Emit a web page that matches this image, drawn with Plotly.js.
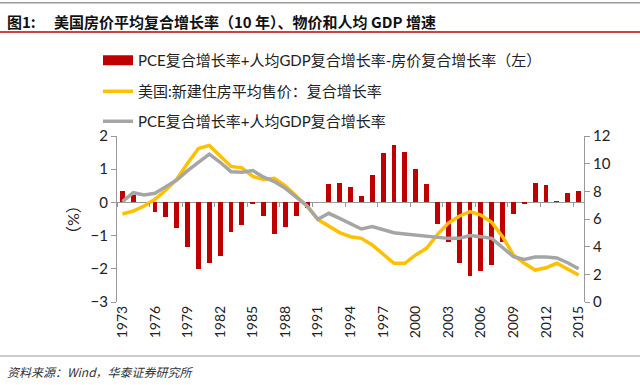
<!DOCTYPE html>
<html>
<head>
<meta charset="utf-8">
<script src="https://cdn.plot.ly/plotly-3.0.1.min.js"></script>
<style>html,body{margin:0;padding:0;background:#fff;}#chart{width:640px;height:385px;}</style>
</head>
<body>
<div id="chart"></div>
<script>
const years = [1973,1974,1975,1976,1977,1978,1979,1980,1981,1982,1983,1984,1985,1986,1987,1988,1989,1990,1991,1992,1993,1994,1995,1996,1997,1998,1999,2000,2001,2002,2003,2004,2005,2006,2007,2008,2009,2010,2011,2012,2013,2014,2015];
const gapBars = [0.35,0.22,0.02,-0.30,-0.45,-0.77,-1.35,-2.02,-1.82,-1.60,-0.88,-0.69,-0.06,-0.42,-0.96,-0.73,-0.42,-0.17,0.01,0.56,0.59,0.47,0.20,0.82,1.49,1.73,1.53,1.01,0.56,-0.66,-1.20,-1.82,-2.21,-2.06,-1.90,-1.20,-0.34,-0.05,0.59,0.51,0.05,0.28,0.35];
const housePrice = [6.36,6.58,6.94,7.42,8.10,8.87,10.03,11.10,11.32,10.57,9.80,9.70,9.08,8.85,8.94,8.40,7.68,6.93,5.96,5.50,5.02,4.72,4.60,4.12,3.45,2.80,2.80,3.40,3.88,4.87,5.70,6.20,6.53,6.29,5.76,4.72,3.40,2.80,2.31,2.47,2.80,2.38,1.95];
const pceGdp = [7.25,7.90,7.74,7.86,8.34,8.82,9.50,10.07,10.69,10.10,9.42,9.38,9.50,9.02,8.70,8.22,7.61,6.94,5.98,6.41,6.05,5.64,5.28,5.45,5.26,5.01,4.92,4.83,4.77,4.64,4.60,4.60,4.80,4.72,4.60,3.94,3.28,3.07,3.25,3.25,3.18,2.84,2.40];
const tickYears = [1973,1976,1979,1982,1985,1988,1991,1994,1997,2000,2003,2006,2009,2012,2015];
const names = ["PCE复合增长率+人均GDP复合增长率-房价复合增长率（左）","美国:新建住房平均售价：复合增长率","PCE复合增长率+人均GDP复合增长率"];

const RED = "#C00000", YEL = "#FFC000", GRY = "#A5A5A5";
const FONT = "Lato, 'Noto Sans CJK SC', sans-serif";

const traces = [
  {type:"bar", x:years, y:gapBars, yaxis:"y", marker:{color:RED}, width:0.45, showlegend:false, hoverinfo:"x+y"},
  {type:"scatter", mode:"lines", x:[null], y:[null], name:names[0], line:{color:RED, width:10}, legend:"legend", showlegend:true},
  {type:"scatter", mode:"lines", x:years, y:housePrice, yaxis:"y2", name:names[1], line:{color:YEL, width:3.5}, legend:"legend2"},
  {type:"scatter", mode:"lines", x:years, y:pceGdp, yaxis:"y2", name:names[2], line:{color:GRY, width:3.5}, legend:"legend3"},
  {type:"scatter", mode:"lines", x:[], y:[], xaxis:"x2", yaxis:"y", showlegend:false, hoverinfo:"skip"}
];

const lx = (98-117)/467;
function legendAt(py){
  return {x:lx, y:(302-py)/166, xanchor:"left", yanchor:"middle", bgcolor:"rgba(0,0,0,0)", borderwidth:0,
          font:{family:FONT, size:15, color:"#222"}};
}

const layout = {
  width:640, height:385,
  margin:{l:117, r:56, t:136, b:83},
  paper_bgcolor:"#fff", plot_bgcolor:"#fff",
  bargap:0,
  xaxis:{type:"linear", range:[1972.5,2015.5], tickmode:"array", tickvals:tickYears, ticktext:tickYears.map(String),
         tickangle:-90, tickfont:{family:FONT, size:14, color:"#222"}, showgrid:false, zeroline:false, showline:false, ticks:""},
  xaxis2:{overlaying:"x", anchor:"free", position:0.6, range:[1972.5,2015.5], showgrid:false, zeroline:false, showline:false,
          showticklabels:false, ticks:"outside", ticklen:4, tickcolor:"#999", tickwidth:1, tick0:1975.5, dtick:3, tickmode:"linear"},
  yaxis:{range:[-3,2], dtick:1, showgrid:false, zeroline:true, zerolinecolor:"#999", zerolinewidth:1.5,
         showline:true, linecolor:"#999", linewidth:1, ticks:"outside", ticklen:5, tickcolor:"#999",
         tickfont:{family:FONT, size:15, color:"#222"}},
  yaxis2:{overlaying:"y", side:"right", range:[0,12], dtick:2, showgrid:false, zeroline:false,
          showline:true, linecolor:"#999", linewidth:1, ticks:"outside", ticklen:5, tickcolor:"#999",
          tickfont:{family:FONT, size:15, color:"#222"}},
  legend:legendAt(60.5),
  legend2:legendAt(91.5),
  legend3:legendAt(121.5),
  shapes:[
    {type:"line", xref:"paper", yref:"paper", x0:-0.26, x1:1.13, y0:(302-2.7)/166, y1:(302-2.7)/166, line:{color:"#999", width:1.5}},
    {type:"line", xref:"paper", yref:"paper", x0:-0.26, x1:1.13, y0:(302-32)/166, y1:(302-32)/166, line:{color:RED, width:1.5}},
    {type:"line", xref:"paper", yref:"paper", x0:-0.26, x1:1.13, y0:(302-356)/166, y1:(302-356)/166, line:{color:"#999", width:1}}
  ],
  annotations:[
    {xref:"paper", yref:"paper", x:(5-117)/467, y:(302-21.7)/166, xanchor:"left", yanchor:"middle", showarrow:false,
     text:"<b>图1:</b>", font:{family:"'Noto Sans CJK SC', sans-serif", size:15, color:"#111"}},
    {xref:"paper", yref:"paper", x:(52-117)/467, y:(302-21.7)/166, xanchor:"left", yanchor:"middle", showarrow:false,
     text:"<b>美国房价平均复合增长率（10 年）、物价和人均 GDP 增速</b>", font:{family:"'Noto Sans CJK SC', sans-serif", size:15, color:"#111"}},
    {xref:"paper", yref:"paper", x:(72-117)/467, y:(302-220)/166, xanchor:"center", yanchor:"middle", showarrow:false,
     text:"（%）", textangle:-90, font:{family:FONT, size:16, color:"#222"}},
    {xref:"paper", yref:"paper", x:(5-117)/467, y:(302-371)/166, xanchor:"left", yanchor:"middle", showarrow:false,
     text:"<i>资料来源：Wind，华泰证券研究所</i>", font:{family:"'Noto Sans CJK SC', sans-serif", size:12, color:"#333"}}
  ]
};

Plotly.newPlot("chart", traces, layout, {displayModeBar:false, staticPlot:true});
</script>
</body>
</html>
